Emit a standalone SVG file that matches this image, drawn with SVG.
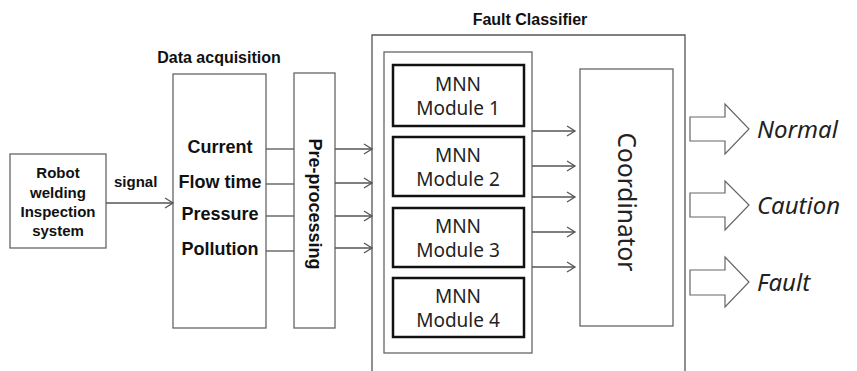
<svg xmlns="http://www.w3.org/2000/svg" width="857" height="371" viewBox="0 0 857 371">
<style>
.box{fill:#fff;stroke:#666;stroke-width:1.3}
.mod{fill:#fff;stroke:#111;stroke-width:2.5}
.b{font-family:"Liberation Sans",Arial,sans-serif;font-weight:bold;fill:#111}
.n{font-family:"Noto Sans","Open Sans",sans-serif;fill:#222}
.it{font-family:"Noto Sans","Open Sans",sans-serif;font-style:italic;font-size:24px;fill:#222}
.ln{stroke:#555;stroke-width:1.3;fill:none}
.big{fill:#fff;stroke:#666;stroke-width:1.2}
</style>
<defs>
<marker id="ah" markerUnits="userSpaceOnUse" markerWidth="12" markerHeight="12" refX="10" refY="6" orient="auto">
<path d="M2,1 L10,6 L2,11" fill="none" stroke="#555" stroke-width="1.3"/>
</marker>
</defs>
<rect width="857" height="371" fill="#fff"/>
<g id="robot">
<rect class="box" x="10" y="154" width="96" height="94"/>
<text class="b" font-size="15" text-anchor="middle"><tspan x="58" y="178">Robot</tspan><tspan x="58" y="198">welding</tspan><tspan x="58" y="217">Inspection</tspan><tspan x="58" y="236">system</tspan></text>
</g>
<g id="data-acquisition">
<text class="b" font-size="16" x="219" y="63" text-anchor="middle">Data acquisition</text>
<rect class="box" x="173" y="74" width="93" height="254"/>
<text class="b" font-size="18" text-anchor="middle"><tspan x="220" y="153">Current</tspan><tspan x="220" y="188">Flow time</tspan><tspan x="220" y="220">Pressure</tspan><tspan x="220" y="255">Pollution</tspan></text>
</g>
<g id="preprocessing">
<rect class="box" x="294" y="73" width="41" height="255"/>
<text class="b" font-size="18" text-anchor="middle" dominant-baseline="central" transform="translate(315,204) rotate(90)">Pre-processing</text>
</g>
<g id="fault-classifier">
<text class="b" font-size="16" x="530" y="25" text-anchor="middle">Fault Classifier</text>
<path class="ln" d="M372,372 V35 H685 V372" stroke="#666"/>
<rect class="box" x="384" y="52" width="148" height="301"/>
</g>
<g id="module1"><rect class="mod" x="393" y="65" width="131" height="61"/><text class="n" font-size="19" text-anchor="middle"><tspan x="458" y="91">MNN</tspan><tspan x="458" y="115">Module 1</tspan></text></g>
<g id="module2"><rect class="mod" x="393" y="137" width="131" height="59"/><text class="n" font-size="19" text-anchor="middle"><tspan x="458" y="162">MNN</tspan><tspan x="458" y="186">Module 2</tspan></text></g>
<g id="module3"><rect class="mod" x="393" y="208" width="131" height="59"/><text class="n" font-size="19" text-anchor="middle"><tspan x="458" y="233">MNN</tspan><tspan x="458" y="257">Module 3</tspan></text></g>
<g id="module4"><rect class="mod" x="393" y="278" width="131" height="59"/><text class="n" font-size="19" text-anchor="middle"><tspan x="458" y="303">MNN</tspan><tspan x="458" y="327">Module 4</tspan></text></g>
<g id="coordinator">
<rect class="box" x="580" y="69" width="93" height="257"/>
<text class="n" font-size="24.5" text-anchor="middle" dominant-baseline="central" transform="translate(627,202) rotate(90)">Coordinator</text>
</g>
<g id="out-normal"><polygon class="big" points="690,117 725,117 725,104 749,129 725,154 725,141 690,141"/><text class="it" x="757" y="138">Normal</text></g>
<g id="out-caution"><polygon class="big" points="690,193 725,193 725,181 749,205 725,230 725,217 690,217"/><text class="it" x="757" y="214">Caution</text></g>
<g id="out-fault"><polygon class="big" points="690,270 725,270 725,257 749,282 725,307 725,295 690,295"/><text class="it" x="757" y="291">Fault</text></g>
<g id="connectors">
<text class="b" font-size="15" x="114" y="187">signal</text>
<line class="ln" x1="106" y1="203" x2="173" y2="203" marker-end="url(#ah)"/>
<line class="ln" x1="266" y1="149" x2="294" y2="149"/>
<line class="ln" x1="266" y1="184" x2="294" y2="184"/>
<line class="ln" x1="266" y1="216" x2="294" y2="216"/>
<line class="ln" x1="266" y1="251" x2="294" y2="251"/>
<line class="ln" x1="335" y1="149" x2="372" y2="149" marker-end="url(#ah)"/>
<line class="ln" x1="335" y1="183" x2="372" y2="183" marker-end="url(#ah)"/>
<line class="ln" x1="335" y1="216" x2="372" y2="216" marker-end="url(#ah)"/>
<line class="ln" x1="335" y1="248" x2="372" y2="248" marker-end="url(#ah)"/>
<line class="ln" x1="532" y1="131" x2="575" y2="131" marker-end="url(#ah)"/>
<line class="ln" x1="532" y1="166" x2="575" y2="166" marker-end="url(#ah)"/>
<line class="ln" x1="532" y1="197" x2="575" y2="197" marker-end="url(#ah)"/>
<line class="ln" x1="532" y1="232" x2="575" y2="232" marker-end="url(#ah)"/>
<line class="ln" x1="532" y1="267" x2="575" y2="267" marker-end="url(#ah)"/>
</g>
</svg>
